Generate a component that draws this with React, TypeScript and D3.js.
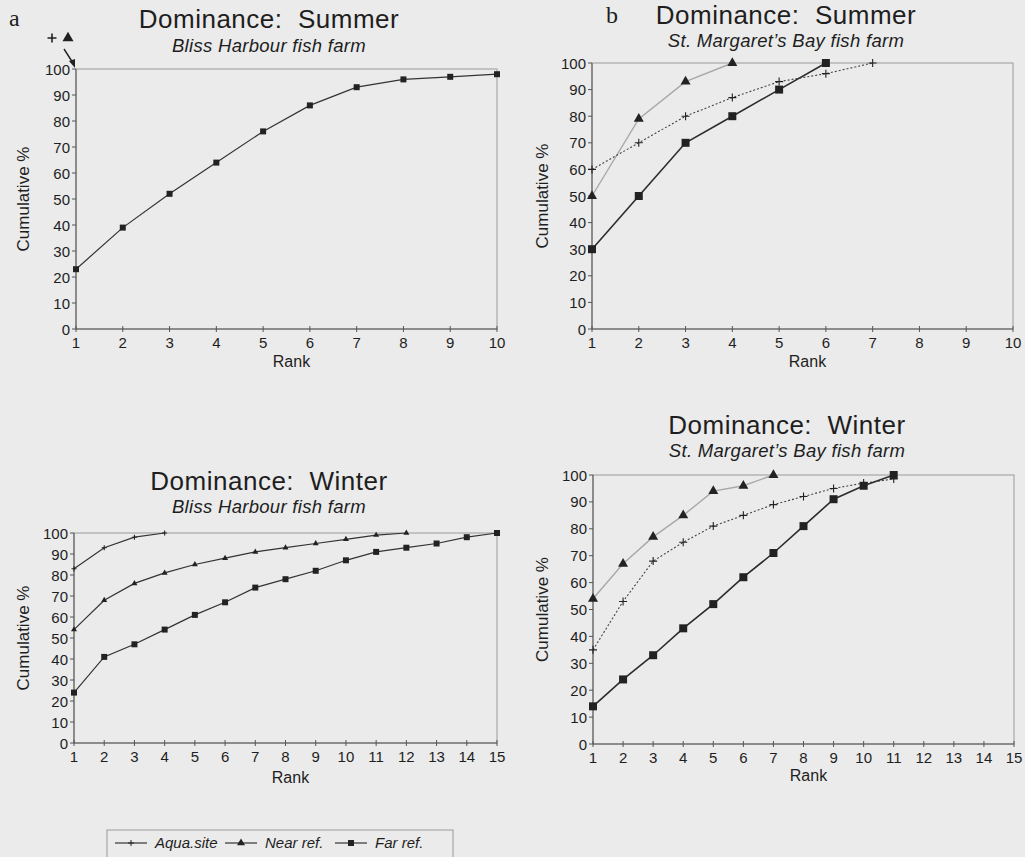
import React from 'react';
import * as d3 from 'd3';

// y axis ticks shared by all four panels
const yTicks = [0, 10, 20, 30, 40, 50, 60, 70, 80, 90, 100];
const rankTicks10 = [1, 2, 3, 4, 5, 6, 7, 8, 9, 10];
const rankTicks15 = [1, 2, 3, 4, 5, 6, 7, 8, 9, 10, 11, 12, 13, 14, 15];

const seriesNames = ['Aqua.site', 'Near ref.', 'Far ref.'];

// a: summer, Bliss Harbour (aqua site and near ref are 100% at rank 1)
const blissSummerFar = [23, 39, 52, 64, 76, 86, 93, 96, 97, 98];

// b: summer, St. Margaret's Bay
const stmSummerAqua = [60, 70, 80, 87, 93, 96, 100];
const stmSummerNear = [50, 79, 93, 100];
const stmSummerFar = [30, 50, 70, 80, 90, 100];

// c: winter, Bliss Harbour
const blissWinterAqua = [83, 93, 98, 100];
const blissWinterNear = [54, 68, 76, 81, 85, 88, 91, 93, 95, 97, 99, 100];
const blissWinterFar = [24, 41, 47, 54, 61, 67, 74, 78, 82, 87, 91, 93, 95, 98, 100];

// d: winter, St. Margaret's Bay
const stmWinterAqua = [35, 53, 68, 75, 81, 85, 89, 92, 95, 97, 98.5];
const stmWinterNear = [54, 67, 77, 85, 94, 96, 100];
const stmWinterFar = [14, 24, 33, 43, 52, 62, 71, 81, 91, 96, 100];

const font = '"Liberation Sans", Arial, sans-serif';
const ink = '#1e1e1e';
const bg = '#ebebeb';

type Marker = 'plus' | 'triangle' | 'square';

interface Series {
  values: number[];
  marker: Marker;
  size: number; // side length in px
  stroke: string;
  width: number;
  dash?: string;
}

interface PanelProps {
  letter?: string;
  letterX?: number;
  letterY?: number;
  title: string;
  subtitle: string;
  titleX: number;
  titleY: number;
  subY: number;
  box: { x0: number; x1: number; y0: number; y1: number };
  ranks: number[];
  series: Series[];
  rankY: number;
  cumX: number;
}

const markerPath = (m: Marker, s: number) => {
  if (m === 'plus') return `M${-s / 2},0H${s / 2}M0,${-s / 2}V${s / 2}`;
  if (m === 'triangle') return d3.symbol(d3.symbolTriangle, (s * s * Math.sqrt(3)) / 4)() as string;
  return d3.symbol(d3.symbolSquare, s * s)() as string;
};

const Panel = (p: PanelProps) => {
  const { x0, x1, y0, y1 } = p.box;
  const x = d3.scaleLinear().domain([1, p.ranks[p.ranks.length - 1]]).range([x0, x1]);
  const y = d3.scaleLinear().domain([0, 100]).range([y1, y0]);
  const line = d3
    .line<number>()
    .x((_, i) => x(i + 1))
    .y(d => y(d));

  return (
    <g>
      {p.letter && (
        <text x={p.letterX} y={p.letterY} fontFamily='"Liberation Serif", serif' fontSize={24} fill={ink}>
          {p.letter}
        </text>
      )}
      <text
        x={p.titleX}
        y={p.titleY}
        textAnchor="middle"
        fontFamily={font}
        fontSize={26}
        letterSpacing={0.5}
        fill={ink}
        style={{ whiteSpace: 'pre' }}
      >
        {p.title}
      </text>
      <text x={p.titleX} y={p.subY} textAnchor="middle" fontFamily={font} fontSize={18.5} letterSpacing={0.3} fontStyle="italic" fill={ink}>
        {p.subtitle}
      </text>

      {/* frame */}
      <rect x={x0} y={y0} width={x1 - x0} height={y1 - y0} fill="none" stroke="#9a9a9a" strokeWidth={1} />
      <line x1={x0} x2={x0} y1={y0} y2={y1} stroke="#555" strokeWidth={1} />
      <line x1={x0} x2={x1} y1={y1} y2={y1} stroke="#555" strokeWidth={1} />

      {yTicks.map(t => (
        <g key={'y' + t}>
          <line x1={x0 - 4} x2={x0} y1={y(t)} y2={y(t)} stroke="#555" />
          <text x={x0 - 6} y={y(t) + 5.5} textAnchor="end" fontFamily={font} fontSize={15} fill={ink}>
            {t}
          </text>
        </g>
      ))}
      {p.ranks.map(r => (
        <g key={'x' + r}>
          <line x1={x(r)} x2={x(r)} y1={y1 - 3} y2={y1 + 3} stroke="#555" />
          <text x={x(r)} y={y1 + 19} textAnchor="middle" fontFamily={font} fontSize={15} fill={ink}>
            {r}
          </text>
        </g>
      ))}
      <text x={(x0 + x1) / 2 + 5} y={p.rankY} textAnchor="middle" fontFamily={font} fontSize={16} fill={ink}>
        Rank
      </text>
      <text
        transform={`translate(${p.cumX},${(y0 + y1) / 2}) rotate(-90)`}
        textAnchor="middle"
        fontFamily={font}
        fontSize={17}
        fill={ink}
      >
        Cumulative %
      </text>

      {p.series.map((s, k) => (
        <g key={k}>
          <path d={line(s.values) as string} fill="none" stroke={s.stroke} strokeWidth={s.width} strokeDasharray={s.dash} />
          {s.values.map((v, i) => (
            <path
              key={i}
              d={markerPath(s.marker, s.size)}
              transform={`translate(${x(i + 1)},${y(v)})`}
              fill={s.marker === 'plus' ? 'none' : '#222'}
              stroke={s.marker === 'plus' ? '#222' : 'none'}
              strokeWidth={1.1}
            />
          ))}
        </g>
      ))}
    </g>
  );
};

const smallSolid = (values: number[], marker: Marker, size: number): Series => ({
  values,
  marker,
  size,
  stroke: '#333',
  width: 1.2,
});

const bigStyle = {
  aqua: (values: number[]): Series => ({ values, marker: 'plus', size: 8, stroke: '#444', width: 1.1, dash: '2,2' }),
  near: (values: number[]): Series => ({ values, marker: 'triangle', size: 10, stroke: '#a8a8a8', width: 1.4 }),
  far: (values: number[]): Series => ({ values, marker: 'square', size: 8, stroke: '#2c2c2c', width: 1.6 }),
};

const App = () => {
  const legendItems: { marker: Marker; x: number; size: number }[] = [
    { marker: 'plus', x: 115, size: 6 },
    { marker: 'triangle', x: 225, size: 8 },
    { marker: 'square', x: 335, size: 6 },
  ];
  return (
    <div style={{ position: 'absolute', left: 0, top: 0 }}>
      <svg width={1025} height={857} style={{ display: 'block', background: bg }}>
        <Panel
          letter="a"
          letterX={9}
          letterY={26}
          title="Dominance:  Summer"
          subtitle="Bliss Harbour fish farm"
          titleX={269}
          titleY={28}
          subY={52}
          box={{ x0: 76, x1: 497, y0: 69, y1: 329 }}
          ranks={rankTicks10}
          series={[smallSolid(blissSummerFar, 'square', 6)]}
          rankY={367}
          cumX={29}
        />
        <Panel
          letter="b"
          letterX={606}
          letterY={23}
          title="Dominance:  Summer"
          subtitle="St. Margaret’s Bay fish farm"
          titleX={786}
          titleY={24}
          subY={46.5}
          box={{ x0: 592, x1: 1013, y0: 63, y1: 329 }}
          ranks={rankTicks10}
          series={[bigStyle.near(stmSummerNear), bigStyle.aqua(stmSummerAqua), bigStyle.far(stmSummerFar)]}
          rankY={367}
          cumX={548}
        />
        <Panel
          title="Dominance:  Winter"
          subtitle="Bliss Harbour fish farm"
          titleX={269}
          titleY={490}
          subY={513}
          box={{ x0: 74, x1: 497, y0: 533, y1: 743 }}
          ranks={rankTicks15}
          series={[
            smallSolid(blissWinterAqua, 'plus', 5),
            smallSolid(blissWinterNear, 'triangle', 6),
            smallSolid(blissWinterFar, 'square', 6),
          ]}
          rankY={783}
          cumX={29}
        />
        <Panel
          title="Dominance:  Winter"
          subtitle="St. Margaret’s Bay fish farm"
          titleX={787}
          titleY={434}
          subY={456.5}
          box={{ x0: 593, x1: 1014, y0: 475, y1: 744 }}
          ranks={rankTicks15}
          series={[bigStyle.near(stmWinterNear), bigStyle.aqua(stmWinterAqua), bigStyle.far(stmWinterFar)]}
          rankY={781}
          cumX={548}
        />

        {/* "+▲" arrow in panel a: both series reach 100% at rank 1 */}
        <g stroke="#222" fill="#222">
          <path d={markerPath('plus', 9)} transform="translate(52,38)" fill="none" strokeWidth={1.6} />
          <path d={markerPath('triangle', 11)} transform="translate(68,38)" stroke="none" />
          <line x1={64} y1={49} x2={73} y2={63} strokeWidth={1.4} />
          <path d="M75,68 L69,61 L75,59 Z" stroke="none" />
        </g>

        {/* legend */}
        <rect x={107} y={830} width={346} height={40} fill="none" stroke="#999" />
        {legendItems.map((it, i) => (
          <g key={i}>
            <line x1={it.x} x2={it.x + 32} y1={843} y2={843} stroke="#333" strokeWidth={1.2} />
            <path
              d={markerPath(it.marker, it.size)}
              transform={`translate(${it.x + 16},843)`}
              fill={it.marker === 'plus' ? 'none' : '#222'}
              stroke={it.marker === 'plus' ? '#222' : 'none'}
            />
            <text x={it.x + 40} y={848} fontFamily={font} fontSize={15} fontStyle="italic" fill={ink}>
              {seriesNames[i]}
            </text>
          </g>
        ))}
      </svg>
    </div>
  );
};

export default App;
